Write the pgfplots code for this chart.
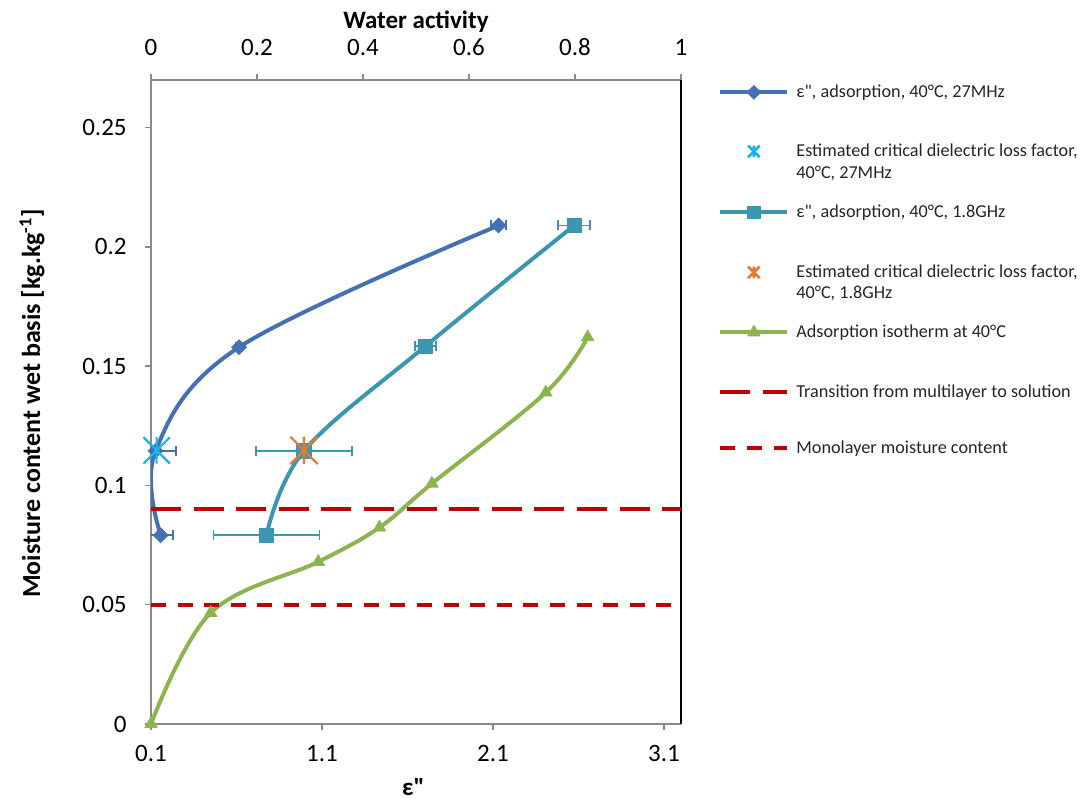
\documentclass[border=0pt]{standalone}
\usepackage{fontspec}
\setmainfont{Carlito}
\usepackage{pgfplots}
\pgfplotsset{compat=1.18}
\definecolor{cBlue}{HTML}{4371B4}
\definecolor{cTeal}{HTML}{3A96B1}
\definecolor{cGreen}{HTML}{8DB44F}
\definecolor{cCyan}{HTML}{1AB3EC}
\definecolor{cOrange}{HTML}{E8792A}
\definecolor{cRed}{HTML}{C00000}
\definecolor{cAxis}{HTML}{8A8A8A}
\pgfdeclareplotmark{xstar}{%
  \pgfpathmoveto{\pgfpoint{-\pgfplotmarksize}{-\pgfplotmarksize}}%
  \pgfpathlineto{\pgfpoint{\pgfplotmarksize}{\pgfplotmarksize}}%
  \pgfpathmoveto{\pgfpoint{-\pgfplotmarksize}{\pgfplotmarksize}}%
  \pgfpathlineto{\pgfpoint{\pgfplotmarksize}{-\pgfplotmarksize}}%
  \pgfpathmoveto{\pgfpoint{0pt}{-\pgfplotmarksize}}%
  \pgfpathlineto{\pgfpoint{0pt}{\pgfplotmarksize}}%
  \pgfusepathqstroke}
\pgfplotsset{
  common/.style={
    scale only axis, width=265bp, height=322bp,
    at={(75.5bp,38.5bp)}, anchor=south west,
    ymin=0, ymax=0.27,
    axis line style={color=cAxis, line width=0.75bp},
    tick style={color=cAxis, line width=0.75bp},
    tick align=outside, major tick length=3bp,
    ticklabel style={font=\fontsize{12.5bp}{15bp}\selectfont, inner sep=0pt, text=black},
  }
}
\begin{document}
\begin{tikzpicture}
\path[use as bounding box] (0,0) rectangle (542bp,400.5bp);
% bottom axis: dielectric loss factor
\begin{axis}[common,
  xmin=0.1, xmax=3.2,
  axis x line*=bottom, axis y line*=left,
  xtick={0.1,1.1,2.1,3.1}, xticklabels={0.1,1.1,2.1,3.1},
  ytick={0,0.05,0.1,0.15,0.2,0.25}, yticklabels={0,0.05,0.1,0.15,0.2,0.25},
  xticklabel style={anchor=base, yshift=-15.75bp},
  yticklabel style={anchor=east, xshift=-9bp},
  xlabel={ε\textquotedbl},
  xlabel style={at={(axis description cs:0.495,-0.1117)}, anchor=base, font=\fontsize{12.5bp}{15bp}\selectfont\bfseries},
  ylabel={Moisture content wet basis [kg.kg\textsuperscript{-1}]},
  ylabel style={at={(axis description cs:-0.2245,0.498)}, anchor=center, rotate=0, font=\fontsize{13bp}{15.5bp}\selectfont\bfseries},
]
\addplot[color=cBlue, line width=2bp, smooth, tension=0.6,
  mark=square*, mark size=2.6bp, mark options={rotate=45, solid, line width=0.4bp},
  error bars/.cd, x dir=both, x explicit,
  error bar style={line width=0.9bp, color=cBlue},
  error mark options={line width=0.9bp, mark size=2.5bp, color=cBlue, rotate=90}]
coordinates {(0.157,0.0791) +- (0.071,0) (0.127,0.1145) +- (0.117,0) (0.615,0.158) +- (0.02,0) (2.133,0.209) +- (0.043,0)};
\addplot[only marks, mark=xstar, mark size=6.6bp, color=cCyan, line width=1.1bp]
coordinates {(0.133,0.1147)};
\addplot[color=cTeal, line width=2bp, smooth, tension=0.6,
  mark=square*, mark size=3.6bp, mark options={solid, line width=0.4bp},
  error bars/.cd, x dir=both, x explicit,
  error bar style={line width=0.9bp, color=cTeal},
  error mark options={line width=0.9bp, mark size=2.5bp, color=cTeal, rotate=90}]
coordinates {(0.775,0.0791) +- (0.31,0) (0.995,0.1145) +- (0.279,0) (1.705,0.1584) +- (0.06,0) (2.575,0.209) +- (0.095,0)};
\addplot[only marks, mark=xstar, mark size=6.85bp, color=cOrange, line width=1.1bp]
coordinates {(0.995,0.1147)};
\end{axis}
% top axis: water activity
\begin{axis}[common,
  xmin=0, xmax=1,
  axis x line*=top, axis y line*=right,
  y axis line style={color=black},
  ytick=\empty,
  xtick={0,0.2,0.4,0.6,0.8,1}, xticklabels={0,0.2,0.4,0.6,0.8,1},
  xticklabel style={anchor=base, yshift=9bp},
  title={Water activity},
  title style={at={(axis description cs:0.5,1.0621)}, anchor=base, font=\fontsize{12.5bp}{15bp}\selectfont\bfseries},
  legend image code/.code={\draw[mark repeat=2,mark phase=2,#1] plot coordinates {(0bp,2.5bp) (16.75bp,2.5bp) (33.5bp,2.5bp)};},
  legend style={at={(1.0698,0.9984)}, anchor=north west, draw=none, fill=none,
    inner sep=0pt, row sep=0pt, column sep=3.5bp,
    font=\fontsize{9.1bp}{11bp}\selectfont,
    nodes={inner sep=0pt, text height=8bp, text depth=2.5bp, text=black!85},
    cells={anchor=base west}},
]
\addlegendimage{color=cBlue, line width=2bp, mark=square*, mark size=2.4bp, mark options={rotate=45, solid, line width=0.4bp}}
\addlegendentry[text depth=21.5bp]{ε\textquotedbl, adsorption,  40°C, 27MHz}
\addlegendimage{only marks, mark=xstar, mark size=2.9bp, color=cCyan, line width=1.3bp}
\addlegendentry[text depth=3bp]{Estimated critical dielectric loss factor,}
\addlegendimage{empty legend}
\addlegendentry[text depth=11.5bp]{40°C, 27MHz}
\addlegendimage{color=cTeal, line width=2bp, mark=square*, mark size=3.2bp, mark options={solid, line width=0.4bp}}
\addlegendentry[text depth=22bp]{ε\textquotedbl, adsorption,  40°C, 1.8GHz}
\addlegendimage{only marks, mark=xstar, mark size=2.9bp, color=cOrange, line width=1.3bp}
\addlegendentry[text depth=2.5bp]{Estimated critical dielectric loss factor,}
\addlegendimage{empty legend}
\addlegendentry[text depth=11.5bp]{40°C, 1.8GHz}
\addplot[color=cGreen, line width=2bp, smooth, tension=0.6,
  mark=triangle*, mark size=3.55bp, mark options={solid, line width=0.4bp}]
coordinates {(0,0) (0.1126,0.0466) (0.3157,0.068) (0.431,0.0824) (0.530,0.1008) (0.745,0.139) (0.824,0.1622)};
\addlegendentry[text depth=22bp]{Adsorption isotherm at 40°C}
\addplot[color=cRed, line width=2bp, dash pattern=on 15bp off 6.3bp]
coordinates {(0,0.09) (1,0.09)};
\addlegendentry[text depth=20bp]{Transition from multilayer to solution}
\addplot[color=cRed, line width=2bp, dash pattern=on 7.5bp off 5.8bp]
coordinates {(0,0.05) (1,0.05)};
\addlegendentry[text depth=2.5bp]{Monolayer moisture content}
\end{axis}
\end{tikzpicture}
\end{document}
